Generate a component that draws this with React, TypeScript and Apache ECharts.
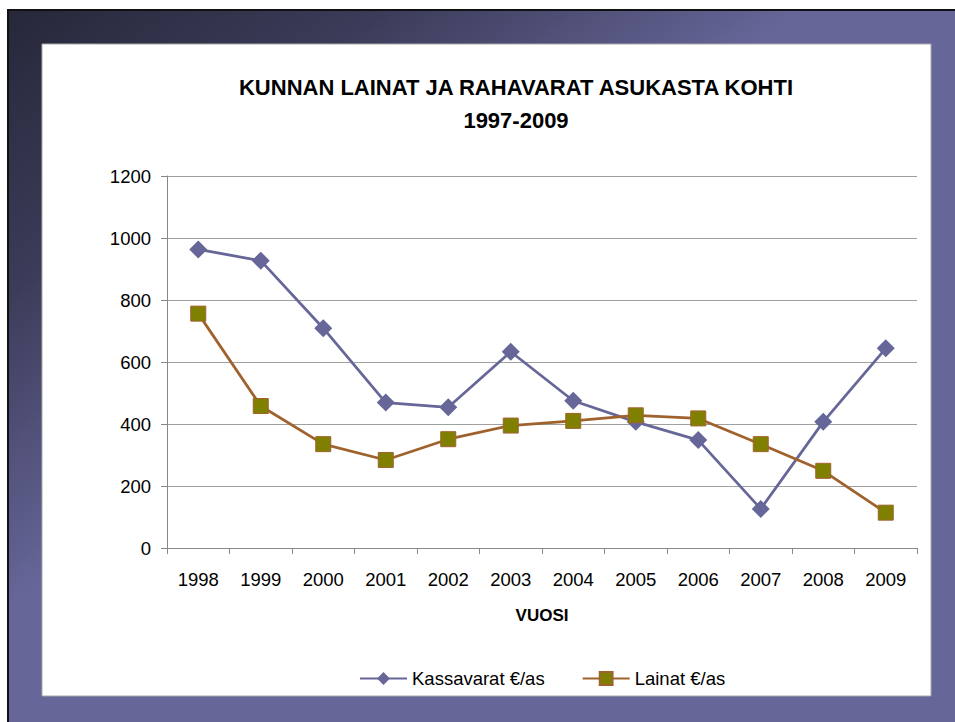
import React, { useEffect, useRef } from "react";
import * as echarts from "echarts";

const years = ["1998", "1999", "2000", "2001", "2002", "2003", "2004", "2005", "2006", "2007", "2008", "2009"];
const kassavarat = [963, 927, 709, 469, 454, 633, 475, 407, 348, 126, 407, 644];
const lainat = [756, 458, 335, 284, 351, 395, 410, 428, 418, 335, 249, 114];
const seriesNames = ["Kassavarat €/as", "Lainat €/as"];
const titleText = "KUNNAN LAINAT JA RAHAVARAT ASUKASTA KOHTI\n1997-2009";
const xName = "VUOSI";

const FONT = "'Liberation Sans', Arial, sans-serif";

export default function App() {
  const ref = useRef<HTMLDivElement>(null);
  useEffect(() => {
    if (!ref.current) return;
    const chart = echarts.init(ref.current, null, { renderer: "svg" });
    chart.setOption({
      animation: false,
      backgroundColor: "#ffffff",
      textStyle: { fontFamily: FONT },
      graphic: [
        { type: "rect", z: -100, shape: { x: 7, y: 9, width: 948, height: 713 }, style: { fill: "#111111" }, silent: true },
        {
          type: "rect",
          z: -99,
          shape: { x: 9, y: 11, width: 946, height: 711 },
          style: {
            fill: new echarts.graphic.LinearGradient(0, 0, 1, 1, [
              { offset: 0, color: "#27273a" },
              { offset: 0.2, color: "#3c3c5a" },
              { offset: 0.42, color: "#666699" },
              { offset: 1, color: "#666699" },
            ]),
          },
          silent: true,
        },
        {
          type: "rect",
          z: -98,
          shape: { x: 42, y: 44, width: 889, height: 652 },
          style: { fill: "#ffffff", stroke: "#a8a8a8", lineWidth: 1 },
          silent: true,
        },
      ],
      title: {
        text: titleText,
        left: 511,
        textAlign: "center",
        top: 66,
        textStyle: { fontFamily: FONT, fontSize: 22, fontWeight: "bold", color: "#000", lineHeight: 33 },
      },
      legend: {
        left: 354,
        top: 664,
        itemWidth: 47,
        itemHeight: 16,
        itemGap: 37,
        textStyle: { fontFamily: FONT, fontSize: 18.5, color: "#000" },
        data: seriesNames,
      },
      grid: { left: 167, right: 38, top: 176, bottom: 174, containLabel: false },
      xAxis: {
        type: "category",
        data: years,
        boundaryGap: true,
        name: xName,
        nameLocation: "middle",
        nameGap: 59,
        nameTextStyle: { fontFamily: FONT, fontSize: 17, fontWeight: "bold", color: "#000" },
        axisLine: { show: true, lineStyle: { color: "#888888", width: 1 } },
        axisTick: { show: true, length: 6, lineStyle: { color: "#888888" } },
        axisLabel: { margin: 22, fontFamily: FONT, fontSize: 18.5, color: "#000" },
        splitLine: { show: false },
      },
      yAxis: {
        type: "value",
        min: 0,
        max: 1200,
        interval: 200,
        axisLine: { show: true, lineStyle: { color: "#888888", width: 1 } },
        axisTick: { show: true, length: 6, lineStyle: { color: "#888888" } },
        axisLabel: { margin: 16, fontFamily: FONT, fontSize: 18.5, color: "#000", formatter: (v: number) => String(v) },
        splitLine: { show: true, lineStyle: { color: "#a0a0a0", width: 1 } },
      },
      series: [
        {
          name: seriesNames[0],
          type: "line",
          data: kassavarat,
          symbol: "diamond",
          symbolSize: 18,
          lineStyle: { color: "#666699", width: 2.75 },
          itemStyle: { color: "#666699" },
        },
        {
          name: seriesNames[1],
          type: "line",
          data: lainat,
          symbol: "rect",
          symbolSize: 15,
          lineStyle: { color: "#A0622D", width: 2.75 },
          itemStyle: { color: "#808000", borderColor: "#A0622D", borderWidth: 1 },
        },
      ],
    });
    return () => chart.dispose();
  }, []);
  return (
    <div
      ref={ref}
      style={{ position: "absolute", left: 0, top: 0, width: 955, height: 722 }}
    />
  );
}
